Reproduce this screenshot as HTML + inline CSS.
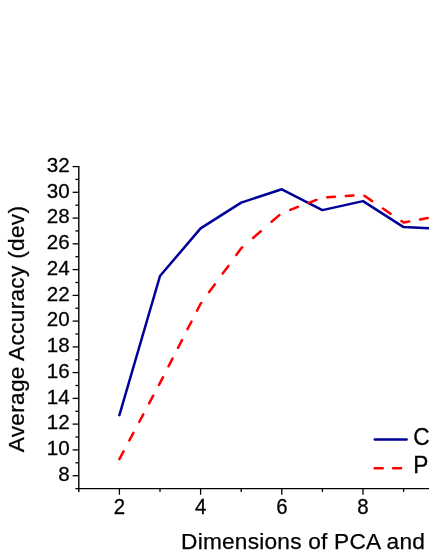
<!DOCTYPE html>
<html><head><meta charset="utf-8"><title>chart</title>
<style>
html,body{margin:0;padding:0;background:#fff;}
body{width:429px;height:555px;overflow:hidden;}
svg{display:block;will-change:transform;}
text{font-family:"Liberation Sans",sans-serif;fill:#000;stroke:#000;stroke-width:0.25px;}
</style></head><body>
<svg width="429" height="555" viewBox="0 0 429 555">
<rect width="429" height="555" fill="#fff"/>

<g stroke="#000" stroke-width="1.4" fill="none">
<line x1="78.8" y1="165.9" x2="78.8" y2="491.9"/>
<line x1="75.4" y1="488.6" x2="430" y2="488.6"/>
</g><g stroke="#000" stroke-width="1.3" fill="none">
<line x1="72.6" y1="475.7" x2="78.8" y2="475.7"/>
<line x1="75.4" y1="462.8" x2="78.8" y2="462.8"/>
<line x1="72.6" y1="449.9" x2="78.8" y2="449.9"/>
<line x1="75.4" y1="437.0" x2="78.8" y2="437.0"/>
<line x1="72.6" y1="424.1" x2="78.8" y2="424.1"/>
<line x1="75.4" y1="411.3" x2="78.8" y2="411.3"/>
<line x1="72.6" y1="398.4" x2="78.8" y2="398.4"/>
<line x1="75.4" y1="385.5" x2="78.8" y2="385.5"/>
<line x1="72.6" y1="372.6" x2="78.8" y2="372.6"/>
<line x1="75.4" y1="359.8" x2="78.8" y2="359.8"/>
<line x1="72.6" y1="346.9" x2="78.8" y2="346.9"/>
<line x1="75.4" y1="334.0" x2="78.8" y2="334.0"/>
<line x1="72.6" y1="321.1" x2="78.8" y2="321.1"/>
<line x1="75.4" y1="308.2" x2="78.8" y2="308.2"/>
<line x1="72.6" y1="295.4" x2="78.8" y2="295.4"/>
<line x1="75.4" y1="282.5" x2="78.8" y2="282.5"/>
<line x1="72.6" y1="269.6" x2="78.8" y2="269.6"/>
<line x1="75.4" y1="256.7" x2="78.8" y2="256.7"/>
<line x1="72.6" y1="243.8" x2="78.8" y2="243.8"/>
<line x1="75.4" y1="230.9" x2="78.8" y2="230.9"/>
<line x1="72.6" y1="218.1" x2="78.8" y2="218.1"/>
<line x1="75.4" y1="205.2" x2="78.8" y2="205.2"/>
<line x1="72.6" y1="192.3" x2="78.8" y2="192.3"/>
<line x1="75.4" y1="179.4" x2="78.8" y2="179.4"/>
<line x1="72.6" y1="166.6" x2="78.8" y2="166.6"/>
<line x1="119.4" y1="488.6" x2="119.4" y2="494.8"/>
<line x1="160.0" y1="488.6" x2="160.0" y2="491.9"/>
<line x1="200.6" y1="488.6" x2="200.6" y2="494.8"/>
<line x1="241.2" y1="488.6" x2="241.2" y2="491.9"/>
<line x1="281.8" y1="488.6" x2="281.8" y2="494.8"/>
<line x1="322.4" y1="488.6" x2="322.4" y2="491.9"/>
<line x1="363.0" y1="488.6" x2="363.0" y2="494.8"/>
<line x1="403.6" y1="488.6" x2="403.6" y2="491.9"/>
</g>
<g font-size="20" text-anchor="end">
<text transform="translate(69.6,480.9) scale(1.03,1.055)">8</text>
<text transform="translate(69.6,455.2) scale(1.03,1.055)">10</text>
<text transform="translate(69.6,429.4) scale(1.03,1.055)">12</text>
<text transform="translate(69.6,403.6) scale(1.03,1.055)">14</text>
<text transform="translate(69.6,377.9) scale(1.03,1.055)">16</text>
<text transform="translate(69.6,352.1) scale(1.03,1.055)">18</text>
<text transform="translate(69.6,326.4) scale(1.03,1.055)">20</text>
<text transform="translate(69.6,300.6) scale(1.03,1.055)">22</text>
<text transform="translate(69.6,274.8) scale(1.03,1.055)">24</text>
<text transform="translate(69.6,249.1) scale(1.03,1.055)">26</text>
<text transform="translate(69.6,223.3) scale(1.03,1.055)">28</text>
<text transform="translate(69.6,197.6) scale(1.03,1.055)">30</text>
<text transform="translate(69.6,171.8) scale(1.03,1.055)">32</text>
</g><g font-size="20" text-anchor="middle">
<text transform="translate(119.4,514.1) scale(1.02,1.08)">2</text>
<text transform="translate(200.6,514.1) scale(1.02,1.08)">4</text>
<text transform="translate(281.8,514.1) scale(1.02,1.08)">6</text>
<text transform="translate(363.0,514.1) scale(1.02,1.08)">8</text>
</g>
<text font-size="22.7" letter-spacing="0.21" x="181.1" y="549.3">Dimensions of PCA and CCA</text>
<text font-size="22.7" letter-spacing="0.28" transform="translate(24.3,452.3) rotate(-90)">Average Accuracy (dev)</text>
<polyline points="119.4,415.1 160.0,276.0 200.6,228.4 241.2,202.6 281.8,189.3 322.4,210.1 363.0,201.1 403.6,227.1 444.2,229.0" fill="none" stroke="#000099" stroke-width="2.5" stroke-linejoin="round" stroke-linecap="round"/>
<path d="M119.4,459.1 L123.5,451.4 M129.3,440.5 L133.4,432.8 M139.2,422.0 L143.3,414.3 M149.1,403.4 L153.2,395.7 M159.0,384.9 L160.0,382.9 L163.0,377.2 M168.5,366.3 L172.5,358.6 M178.0,347.8 L182.0,340.1 M187.5,329.2 L191.5,321.5 M197.0,310.7 L200.6,303.7 L201.2,303.0 M209.1,292.1 L214.8,284.4 M222.7,273.6 L228.4,265.9 M236.3,255.0 L241.2,248.3 L242.2,247.4 M253.1,238.0 L260.8,231.3 M271.6,221.8 L279.3,215.1 M290.2,209.8 L297.9,206.8 M308.7,202.8 L316.4,199.8 M327.3,197.3 L335.0,196.8 M345.8,196.0 L353.5,195.5 M364.4,195.8 L372.1,201.1 M382.9,208.5 L390.6,213.7 M401.5,221.1 L403.6,222.6 L409.2,221.5 M420.0,219.5 L427.7,218.1 M438.6,216.0 L444.2,215.0" fill="none" stroke="#ff0000" stroke-width="2.5" stroke-linejoin="round" stroke-linecap="round"/>
<line x1="374.8" y1="439.5" x2="406.6" y2="439.5" stroke="#000099" stroke-width="2.5" stroke-linecap="round"/>
<path d="M374.7,468.2 h8 M393.1,468.2 h8" stroke="#ff0000" stroke-width="2.5" stroke-linecap="round" fill="none"/>
<text font-size="22.7" letter-spacing="0.2" transform="translate(413.3,444.5) scale(1,1.04)">CCA</text>
<text font-size="22.7" letter-spacing="0.2" transform="translate(413.3,473.3) scale(1,1.04)">PCA</text>
</svg></body></html>
